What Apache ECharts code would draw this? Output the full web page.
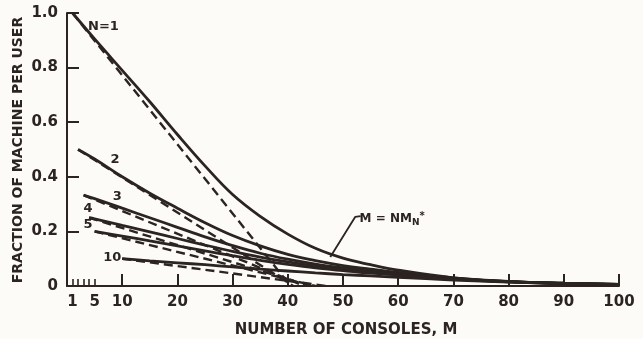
<!DOCTYPE html>
<html>
<head>
<meta charset="utf-8">
<script src="https://cdn.jsdelivr.net/npm/echarts@6/dist/echarts.min.js"></script>
<style>
  html, body { margin: 0; padding: 0; background: #fcfbf8; }
  #chart { width: 643px; height: 339px; }
</style>
</head>
<body>
<div id="chart"></div>
<script>
// tick positions / labels
const xMajorTicks = [10, 20, 30, 40, 50, 60, 70, 80, 90, 100];
const xMinorTicks = [1, 2, 3, 4, 5];
const xTickLabels = [1, 5, 10, 20, 30, 40, 50, 60, 70, 80, 90, 100];
const yTicks = [0, 0.2, 0.4, 0.6, 0.8, 1.0];

// solid curves
const consolesN1 = [1, 5, 10, 15, 20, 25, 30, 35, 40, 45, 50, 55, 60, 70, 80, 90, 100];
const fractionN1 = [1.0, 0.905, 0.79, 0.675, 0.555, 0.44, 0.335, 0.255, 0.19, 0.138, 0.102, 0.078, 0.058, 0.03, 0.016, 0.009, 0.005];
const consolesN2 = [2, 5, 10, 15, 20, 25, 30, 35, 40, 45, 50, 55, 60, 70, 80, 90, 100];
const fractionN2 = [0.5, 0.465, 0.4, 0.34, 0.285, 0.232, 0.185, 0.147, 0.116, 0.093, 0.075, 0.062, 0.05, 0.03, 0.017, 0.01, 0.006];
const consolesN3 = [3, 5, 10, 15, 20, 25, 30, 35, 40, 45, 50, 55, 60, 70, 80, 90, 100];
const fractionN3 = [0.333, 0.32, 0.285, 0.25, 0.215, 0.18, 0.148, 0.12, 0.098, 0.08, 0.066, 0.055, 0.045, 0.028, 0.016, 0.01, 0.006];
const consolesN4 = [4, 5, 10, 15, 20, 25, 30, 35, 40, 45, 50, 55, 60, 70, 80, 90, 100];
const fractionN4 = [0.25, 0.246, 0.222, 0.198, 0.174, 0.15, 0.127, 0.106, 0.088, 0.073, 0.061, 0.051, 0.042, 0.027, 0.016, 0.01, 0.006];
const consolesN5 = [5, 10, 15, 20, 25, 30, 35, 40, 45, 50, 55, 60, 70, 80, 90, 100];
const fractionN5 = [0.2, 0.183, 0.165, 0.147, 0.129, 0.111, 0.094, 0.079, 0.066, 0.056, 0.047, 0.04, 0.026, 0.015, 0.009, 0.006];
const consolesN10 = [10, 15, 20, 25, 30, 35, 40, 45, 50, 55, 60, 70, 80, 90, 100];
const fractionN10 = [0.1, 0.092, 0.085, 0.078, 0.07, 0.062, 0.055, 0.048, 0.042, 0.037, 0.032, 0.022, 0.014, 0.009, 0.005];

// dashed asymptotes: start (N, 1/N), reach zero at these M
const dashStartM = [1, 2, 3, 4, 5, 10];
const dashStartV = [1.0, 0.5, 0.333, 0.25, 0.2, 0.1];
const dashZeroM = [40.5, 41, 43, 44, 45, 47];

// curve labels
const labelTexts = ["N=1", "2", "3", "4", "5", "10"];
const labelM = [6.6, 8.7, 9.1, 3.8, 3.8, 8.2];
const labelV = [0.949, 0.462, 0.326, 0.282, 0.223, 0.103];

// M = N M_N* annotation
const noteM = 58.9;
const noteV = 0.245;
const leaderM = [47.7, 52.2, 53.2];
const leaderV = [0.106, 0.253, 0.256];

const ink = "#2b2421";
const font = "DejaVu Sans";

const zip = (a, b) => a.map((x, i) => [x, b[i]]);

const solids = [
  zip(consolesN1, fractionN1),
  zip(consolesN2, fractionN2),
  zip(consolesN3, fractionN3),
  zip(consolesN4, fractionN4),
  zip(consolesN5, fractionN5),
  zip(consolesN10, fractionN10),
];

const series = [];
solids.forEach((d) => {
  series.push({
    type: "line",
    data: d,
    smooth: 0.4,
    symbol: "none",
    lineStyle: { color: ink, width: 2.8 },
    silent: true,
  });
});
dashStartM.forEach((m, i) => {
  series.push({
    type: "line",
    data: [[m, dashStartV[i]], [dashZeroM[i], 0]],
    symbol: "none",
    lineStyle: { color: ink, width: 2.4, type: [9, 5] },
    silent: true,
  });
});
series.push({
  type: "line",
  data: zip(leaderM, leaderV),
  symbol: "none",
  lineStyle: { color: ink, width: 1.8 },
  silent: true,
});
series.push({
  type: "scatter",
  symbolSize: 0,
  itemStyle: { opacity: 1 },
  data: labelM.map((m, i) => ({ value: [m, labelV[i]], name: labelTexts[i] })),
  label: {
    show: true,
    position: "inside",
    formatter: (p) => p.name,
    color: ink,
    fontFamily: font,
    fontWeight: "bold",
    fontSize: 13,
  },
  silent: true,
});
series.push({
  type: "scatter",
  symbolSize: 0,
  itemStyle: { opacity: 1 },
  data: [[noteM, noteV]],
  label: {
    show: true,
    position: "inside",
    formatter: "{a|M = NM}{b|N}{c|*}",
    rich: {
      a: { color: ink, fontFamily: font, fontWeight: "bold", fontSize: 12 },
      b: { color: ink, fontFamily: font, fontWeight: "bold", fontSize: 9, padding: [8, 0, 0, 0] },
      c: { color: ink, fontFamily: font, fontWeight: "bold", fontSize: 10, padding: [0, 0, 6, 0] },
    },
  },
  silent: true,
});

const chart = echarts.init(document.getElementById("chart"));
chart.setOption({
  backgroundColor: "#fcfbf8",
  animation: false,
  grid: { left: 67, right: 24, top: 13, bottom: 53 },
  xAxis: [
    {
      type: "value",
      min: 0,
      max: 100,
      axisLine: { show: true, lineStyle: { color: ink, width: 2 } },
      axisTick: { show: true, inside: true, length: 12, customValues: xMajorTicks, lineStyle: { color: ink, width: 2 } },
      axisLabel: {
        show: true,
        customValues: xTickLabels,
        formatter: (v) => String(v),
        margin: 9,
        color: ink,
        fontFamily: font,
        fontWeight: "bold",
        fontSize: 15,
      },
      splitLine: { show: false },
    },
    {
      type: "value",
      min: 0,
      max: 100,
      position: "bottom",
      axisLine: { show: false },
      axisTick: { show: true, inside: true, length: 7, customValues: xMinorTicks, lineStyle: { color: ink, width: 1.6 } },
      axisLabel: { show: false },
      splitLine: { show: false },
    },
  ],
  yAxis: {
    type: "value",
    min: 0,
    max: 1,
    interval: 0.2,
    axisLine: { show: true, lineStyle: { color: ink, width: 2 } },
    axisTick: { show: true, inside: true, length: 12, lineStyle: { color: ink, width: 2 } },
    axisLabel: {
      show: true,
      margin: 9,
      color: ink,
      fontFamily: font,
      fontWeight: "bold",
      fontSize: 15,
      formatter: (v) => (v === 0 ? "0" : yTicks.includes(v) ? v.toFixed(1) : ""),
    },
    splitLine: { show: false },
  },
  graphic: [
    {
      type: "text",
      x: 346,
      y: 330,
      style: {
        text: "NUMBER OF CONSOLES, M",
        fill: ink,
        font: "bold 15px 'DejaVu Sans'",
        align: "center",
        verticalAlign: "middle",
      },
    },
    {
      type: "text",
      x: 18,
      y: 150,
      rotation: Math.PI / 2,
      style: {
        text: "FRACTION OF MACHINE PER USER",
        fill: ink,
        font: "bold 14px 'DejaVu Sans'",
        align: "center",
        verticalAlign: "middle",
      },
    },
  ],
  series: series,
});
</script>
</body>
</html>
